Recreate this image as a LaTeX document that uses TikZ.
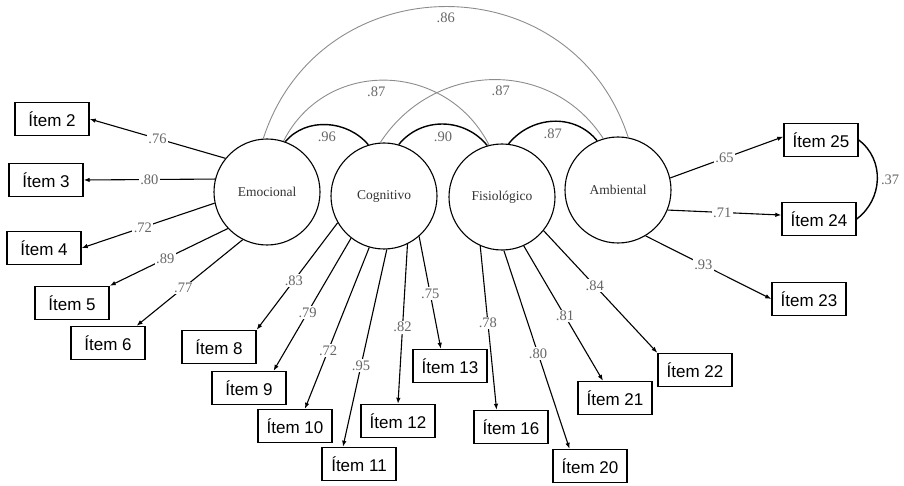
\documentclass[tikz,border=0pt]{standalone}
\usepackage{fontspec}
\setmainfont{Liberation Serif}
\newfontfamily\itemfont{Liberation Sans}
\usetikzlibrary{arrows.meta}
\usetikzlibrary{positioning}

\begin{document}
\begin{tikzpicture}[x=1pt, y=1pt]
	\useasboundingbox (0,0) rectangle (904,485);

	\begin{scope}[every node/.style={circle, draw, line width=1.1pt, minimum size=106pt, inner sep=0pt, text=black!80, font=\fontsize{13.5}{15}\selectfont}]
		\node (emo) at (267,293) {Emocional};
		\node (cog) at (384,289) {Cognitivo};
		\node (fis) at (502,288) {Fisiológico};
		\node (amb) at (618,295) {Ambiental};
	\end{scope}

	\begin{scope}[every node/.style={rectangle, draw, line width=1.4pt, minimum width=74pt, minimum height=33pt, font=\itemfont\fontsize{17}{20}\selectfont}]
		\node (i2) at (52,366) {Ítem 2};
		\node (i3) at (46,305) {Ítem 3};
		\node (i4) at (44,237) {Ítem 4};
		\node (i5) at (72,182) {Ítem 5};
		\node (i6) at (108,142) {Ítem 6};
		\node (i8) at (219,138) {Ítem 8};
		\node (i9) at (249,97) {Ítem 9};
		\node (i10) at (295,59) {Ítem 10};
		\node (i11) at (359,21) {Ítem 11};
		\node (i12) at (398,64) {Ítem 12};
		\node (i13) at (450,119) {Ítem 13};
		\node (i16) at (511,58) {Ítem 16};
		\node (i20) at (590,19) {Ítem 20};
		\node (i21) at (615,87) {Ítem 21};
		\node (i22) at (695,115) {Ítem 22};
		\node (i25) at (821,345) {Ítem 25};
		\node (i24) at (819,266) {Ítem 24};
		\node (i23) at (809,186) {Ítem 23};
	\end{scope}

	% loadings
	\begin{scope}[>={Latex[length=6pt, width=4.5pt]},
	              every node/.style={fill=white, inner sep=1.5pt, text=black!60, font=\fontsize{14.5}{16}\selectfont},
	              every edge/.style={draw=black, line width=1.1pt, ->}]
		\path (emo.141) edge node {.76} (i2.east);
		\path (emo.166) edge node {.80} (i3.east);
		\path (emo.192) edge node[pos=.54] {.72} (i4.east);
		\path (emo.223) edge node[pos=.53] {.89} (i5.north east);
		\path (emo.243) edge node[pos=.56] {.77} (i6.31);
		\path (cog.210) edge node[pos=.54] {.83} (i8.north east);
		\path (cog.232) edge node[pos=.56] {.79} (i9.35);
		\path (cog.254) edge node[pos=.64] {.72} (i10.60);
		\path (cog.273) edge node[pos=.59] {.95} (i11.133);
		\path (cog.296) edge node[pos=.52] {.82} (i12.north);
		\path (cog.311) edge node[pos=.51] {.75} (i13.118);
		\path (fis.246) edge node[pos=.47] {.78} (i16.130);
		\path (fis.272) edge node[pos=.52] {.80} (i20.140);
		\path (fis.294) edge node[pos=.52] {.81} (i21.125);
		\path (fis.321) edge node[pos=.45] {.84} (i22.north west);
		\path (amb.13) edge node[pos=.48] {.65} (i25.175);
		\path (amb.338) edge node[pos=.48] {.71} (i24.174);
		\path (amb.301) edge node[pos=.46] {.93} (i23.west);
	\end{scope}

	% correlations
	\begin{scope}[every node/.style={inner sep=1pt, text=black!60, font=\fontsize{14.5}{16}\selectfont}]
		\draw[black!45, line width=0.9pt] (emo.94) to[out=72, in=108, looseness=1.29] node[below=5pt] {.86} (amb.79);
		\draw[black!45, line width=0.9pt] (emo.72) to[out=63, in=117, looseness=1.17] node[below=5pt, xshift=-10pt] {.87} (fis.104);
		\draw[black!45, line width=0.9pt] (cog.94) to[out=57, in=123, looseness=1.11] node[below=5pt, xshift=9pt] {.87} (amb.106);
		\draw[line width=1.4pt] (emo.70) to[out=50, in=130] node[below=6pt] {.96} (cog.107);
		\draw[line width=1.4pt] (cog.74) to[out=51, in=129, looseness=1.04] node[below=6pt] {.90} (fis.106);
		\draw[line width=1.4pt] (fis.83) to[out=51, in=129, looseness=1.04] node[below=6pt] {.87} (amb.113);
		\draw[line width=1.4pt] (i25.east) to[out=-37, in=37, looseness=1.06] node[right=2pt] {.37} (i24.east);
	\end{scope}
\end{tikzpicture}
\end{document}
